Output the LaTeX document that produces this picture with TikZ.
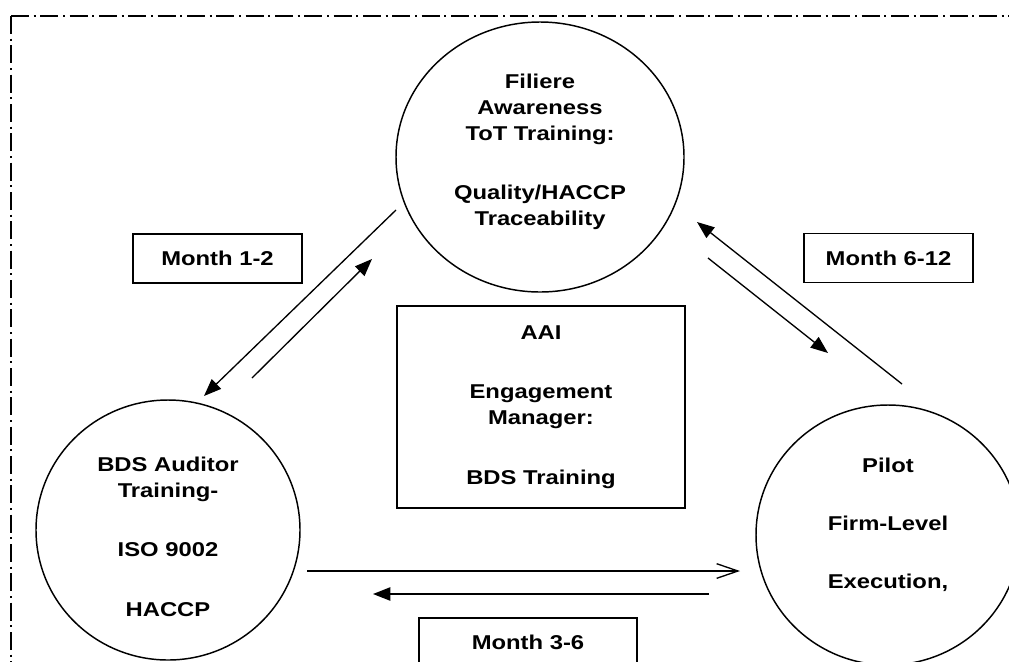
\documentclass[tikz,border=0pt]{standalone}
\usepackage{fontspec}
\setmainfont{Liberation Sans}[FakeStretch=1.19]
\usetikzlibrary{shapes.geometric,arrows.meta}

\begin{document}
\begin{tikzpicture}[x=0.75pt, y=-0.75pt,
  every node/.style={font=\fontsize{15}{19.5}\selectfont\bfseries, align=center},
  stage/.style={draw, ellipse, line width=1.1pt, inner sep=0pt},
  monthbox/.style={draw, line width=1.1pt, minimum width=126.75pt, minimum height=36.75pt, inner sep=0pt},
  flow/.style={line width=1pt, -{Triangle[length=13pt,width=10pt]}},
  frame/.style={line width=1.5pt, dash pattern=on 13.5pt off 3.5pt on 1.5pt off 3.5pt}]
\useasboundingbox (0,0) rectangle (1009,661);
\clip (0,0) rectangle (1009,661);

% Outer frame
\draw[frame] (11,16) -- (1060,16);
\draw[frame] (11,16) -- (11,700);

% Training stages
\node[stage, minimum width=216pt, minimum height=202.5pt] (filiere) at (540,157) {};
\node[yshift=3.75pt] (filieretxt) at (filiere)
  {Filiere\\Awareness\\ToT Training:\\[25pt]Quality/HACCP\\Traceability};
\node[stage, minimum width=198pt, minimum height=195pt] (auditor) at (168,530) {};
\node[yshift=-4.9pt] (auditortxt) at (auditor)
  {BDS Auditor\\Training-\\[25pt]ISO 9002\\[25pt]HACCP};
\node[stage, minimum width=198pt, minimum height=195pt] (pilot) at (888,535) {};
\node[yshift=8pt] (pilottxt) at (pilot)
  {Pilot\\[24pt]Firm-Level\\[24pt]Execution,};

% Centre box
\node[draw, line width=1.1pt, minimum width=216pt, minimum height=151.5pt, inner sep=0pt] (aai) at (541,407)
  {AAI\\[25pt]Engagement\\Manager:\\[25pt]BDS Training};

% Month labels
\node[monthbox] (m12) at (217.5,258.5) {Month 1-2};
\node[monthbox] (m612) at (888.5,258) {Month 6-12};
\node[monthbox, minimum width=163.5pt] (m36) at (528,642.5) {Month 3-6};

% Arrow ends
\coordinate (a1s) at (396,210); \coordinate (a1e) at (204,396);
\coordinate (a2s) at (252,378); \coordinate (a2e) at (372,259);
\coordinate (b1s) at (902,384); \coordinate (b1e) at (697,222);
\coordinate (b2s) at (708,258); \coordinate (b2e) at (828,353);
\coordinate (c1s) at (307,571); \coordinate (c1e) at (740,571);
\coordinate (c2s) at (709,594); \coordinate (c2e) at (373,594);

% Arrows
\draw[flow] (a1s) -- (a1e);
\draw[flow] (a2s) -- (a2e);
\draw[flow] (b1s) -- (b1e);
\draw[flow] (b2s) -- (b2e);
\draw[line width=1pt, -{Straight Barb[length=16pt,width=11pt]}] (c1s) -- (c1e);
\draw[flow] (c2s) -- (c2e);
\end{tikzpicture}
\end{document}
